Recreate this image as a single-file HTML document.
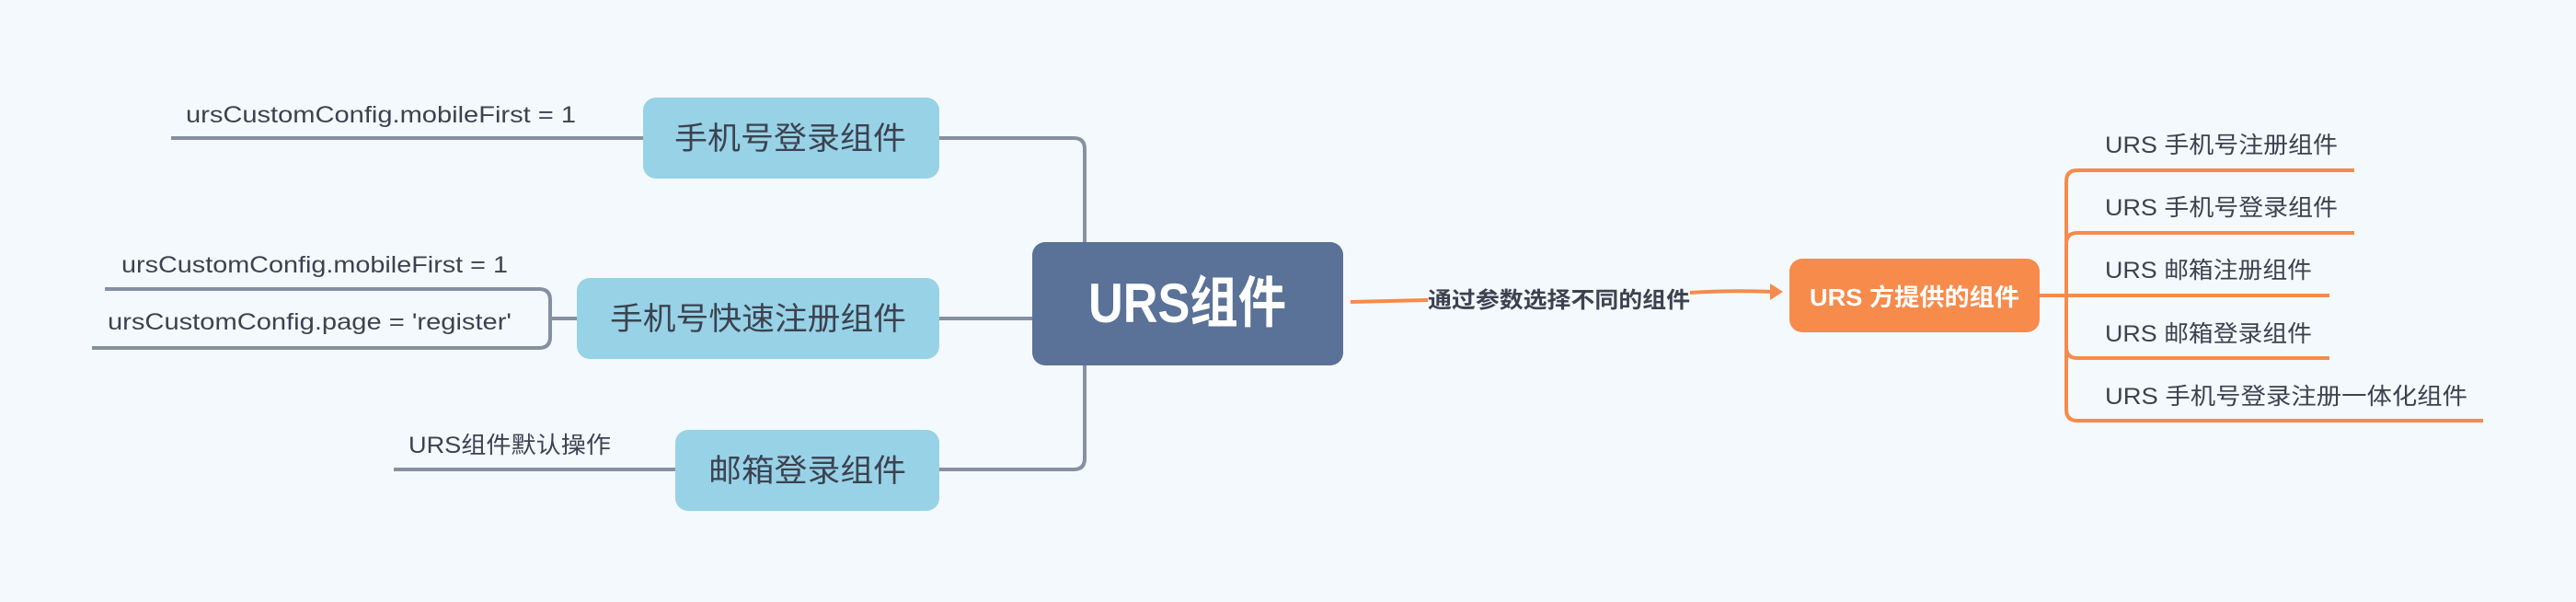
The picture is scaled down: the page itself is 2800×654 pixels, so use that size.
<!DOCTYPE html>
<html><head><meta charset="utf-8"><style>
html,body{margin:0;padding:0;background:#f4f9fd;}
svg{display:block;}
text{font-family:"Liberation Sans","Noto Sans CJK SC",sans-serif;}
</style></head><body>
<svg width="2800" height="654" viewBox="0 0 2800 654" xmlns="http://www.w3.org/2000/svg">
<rect width="2800" height="654" fill="#f4f9fd"/>
<g fill="none" stroke="#8690a3" stroke-width="4">
<path d="M186 150 H699"/>
<path d="M1021 150 H1167 Q1179 150 1179 162 V263"/>
<path d="M114 314 H586 Q598 314 598 326 V366 Q598 378 586 378 H100"/>
<path d="M598 346 H627"/>
<path d="M1021 346 H1122"/>
<path d="M1179 397 V498 Q1179 510 1167 510 H1021"/>
<path d="M428 510 H734"/>
</g>
<rect x="699" y="106" width="322" height="88" rx="14" fill="#98d2e6"/>
<rect x="627" y="302" width="394" height="88" rx="14" fill="#98d2e6"/>
<rect x="734" y="467" width="287" height="88" rx="14" fill="#98d2e6"/>
<rect x="1122" y="263" width="338" height="134" rx="14" fill="#5a7198"/>
<g fill="#3c4250" font-size="34">
<text x="733" y="162" textLength="252" lengthAdjust="spacingAndGlyphs">手机号登录组件</text>
<text x="663" y="358" textLength="322" lengthAdjust="spacingAndGlyphs">手机号快速注册组件</text>
<text x="770" y="523" textLength="215" lengthAdjust="spacingAndGlyphs">邮箱登录组件</text>
</g>
<g fill="#3c4250" font-size="25">
<text x="202" y="133" textLength="424" lengthAdjust="spacingAndGlyphs">ursCustomConfig.mobileFirst = 1</text>
<text x="132" y="296" textLength="420" lengthAdjust="spacingAndGlyphs">ursCustomConfig.mobileFirst = 1</text>
<text x="117" y="358" textLength="439" lengthAdjust="spacingAndGlyphs">ursCustomConfig.page = 'register'</text>
<text x="444" y="492" textLength="220" lengthAdjust="spacingAndGlyphs">URS组件默认操作</text>
</g>
<text x="1183" y="350" font-size="60" font-weight="bold" fill="#fff" textLength="215" lengthAdjust="spacingAndGlyphs">URS组件</text>
<g fill="none" stroke="#f68b4b" stroke-width="4">
<path d="M1468 328 L1552 326"/>
<path d="M1837 318 Q1880 315 1928 317"/>
<path d="M2217 321 H2532"/>
<path d="M2559 185 H2258 Q2246 185 2246 197 V445 Q2246 457 2258 457 H2699"/>
<path d="M2559 253 H2258 Q2246 253 2246 265"/>
<path d="M2532 389 H2258 Q2246 389 2246 377"/>
</g>
<path d="M1924 308 L1938 317 L1924 326 Z" fill="#f68b4b"/>
<text x="1552" y="334" font-size="24" font-weight="bold" fill="#3c4250" textLength="285" lengthAdjust="spacingAndGlyphs">通过参数选择不同的组件</text>
<rect x="1945" y="281" width="272" height="80" rx="14" fill="#f68b4b"/>
<text x="1967" y="332" font-size="26" font-weight="bold" fill="#fff" textLength="228" lengthAdjust="spacingAndGlyphs">URS 方提供的组件</text>
<g fill="#3c4250" font-size="25">
<text x="2288" y="166" textLength="253" lengthAdjust="spacingAndGlyphs">URS 手机号注册组件</text>
<text x="2288" y="234" textLength="253" lengthAdjust="spacingAndGlyphs">URS 手机号登录组件</text>
<text x="2288" y="302" textLength="225" lengthAdjust="spacingAndGlyphs">URS 邮箱注册组件</text>
<text x="2288" y="371" textLength="225" lengthAdjust="spacingAndGlyphs">URS 邮箱登录组件</text>
<text x="2288" y="439" textLength="394" lengthAdjust="spacingAndGlyphs">URS 手机号登录注册一体化组件</text>
</g>
</svg>
</body></html>
